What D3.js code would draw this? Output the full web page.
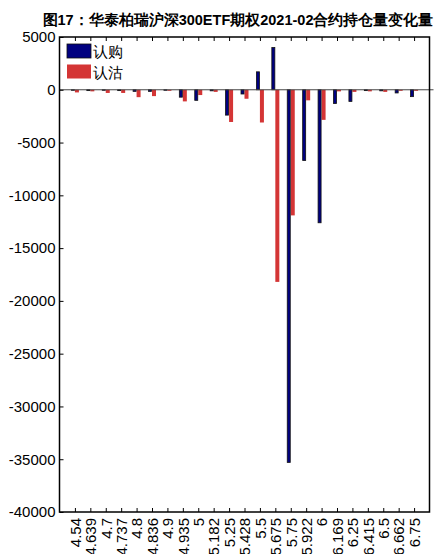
<!DOCTYPE html>
<html><head><meta charset="utf-8">
<script src="https://cdn.jsdelivr.net/npm/d3@7"></script>
<style>
body{margin:0;background:#fff;}
svg{display:block;}
text{font-family:"Liberation Sans",Arial,sans-serif;}
</style></head>
<body>
<svg id="c" width="444" height="554"></svg>
<script>
const categories = ["4.54","4.639","4.7","4.737","4.8","4.836","4.9","4.935","5","5.182","5.25","5.428","5.5","5.675","5.75","5.922","6","6.169","6.25","6.415","6.5","6.662","6.75"];
const callValues = [-50,-80,-50,-80,-150,-150,-50,-700,-1000,-100,-2400,-400,1700,4000,-35300,-6700,-12600,-1300,-1100,-80,-100,-300,-650];
const putValues = [-250,-150,-300,-300,-700,-600,-100,-1100,-500,-200,-3050,-850,-3100,-18200,-11900,-1000,-2850,-150,-200,-150,-200,-100,-100];
const yTicks = [5000,0,-5000,-10000,-15000,-20000,-25000,-30000,-35000,-40000];
const seriesNames = ["认购","认沽"];
const title = "图17：华泰柏瑞沪深300ETF期权2021-02合约持仓量变化量";

const svg = d3.select("#c");
const L = 59.5, R = 429.5, T = 37, B = 512;
const x = d3.scaleLinear().domain([0, categories.length + 1]).range([L, R]);
const y = d3.scaleLinear().domain([-40000, 5000]).range([B, T]);

svg.append("text").attr("x", 238).attr("y", 25).attr("text-anchor", "middle")
  .attr("font-size", 14.5).attr("font-weight", "bold")
  .attr("font-family", "'Noto Sans CJK SC','Liberation Sans',sans-serif")
  .text(title);

const bw = 4;
svg.append("g").selectAll("rect").data(putValues).join("rect")
  .attr("x", (d, i) => x(i + 1))
  .attr("width", bw)
  .attr("y", d => y(Math.max(0, d)))
  .attr("height", d => Math.abs(y(d) - y(0)))
  .attr("fill", "#d43535");
svg.append("g").selectAll("rect").data(callValues).join("rect")
  .attr("x", (d, i) => x(i + 1) - bw + 0.5)
  .attr("width", bw - 1)
  .attr("y", d => y(Math.max(0, d)))
  .attr("height", d => Math.abs(y(d) - y(0)))
  .attr("fill", "#000080").attr("stroke", "#111").attr("stroke-width", 0.8);

// zero line
svg.append("line").attr("x1", L).attr("x2", R + 4).attr("y1", y(0)).attr("y2", y(0))
  .attr("stroke", "#444").attr("stroke-width", 1);

// frame
svg.append("rect").attr("x", L).attr("y", T).attr("width", R - L).attr("height", B - T)
  .attr("fill", "none").attr("stroke", "#000").attr("stroke-width", 1.5);

// y axis
const ya = svg.append("g").attr("transform", `translate(${L},0)`)
  .call(d3.axisLeft(y).tickValues(yTicks).tickSize(-4).tickPadding(3).tickFormat(d => String(d)));
ya.select(".domain").remove();
ya.selectAll("text").attr("font-size", 15).attr("fill", "#000")
  .attr("font-family", "'Liberation Sans',Arial,sans-serif").attr("dx", -1);
ya.selectAll(".tick line").attr("stroke", "#000");

// x axis bottom
const xa = svg.append("g").attr("transform", `translate(0,${B})`)
  .call(d3.axisBottom(x).tickValues(d3.range(1, categories.length + 1)).tickSize(-4)
    .tickFormat((d) => categories[d - 1]));
xa.select(".domain").remove();
xa.selectAll(".tick line").attr("stroke", "#000");
xa.selectAll("text").attr("font-size", 15).attr("fill", "#000")
  .attr("font-family", "'Liberation Sans',Arial,sans-serif")
  .attr("transform", "rotate(-90)").attr("text-anchor", "end")
  .attr("x", -6).attr("y", 0).attr("dy", "0.35em");

// top ticks
const xt = svg.append("g").attr("transform", `translate(0,${T})`)
  .call(d3.axisTop(x).tickValues(d3.range(1, categories.length + 1)).tickSize(-4).tickFormat(""));
xt.select(".domain").remove();
xt.selectAll(".tick line").attr("stroke", "#000");

// legend
const colors = ["#000080", "#d43535"];
const lg = svg.append("g");
seriesNames.forEach((n, i) => {
  lg.append("rect").attr("x", 67).attr("y", 44 + i * 20.5).attr("width", 24).attr("height", 14)
    .attr("fill", colors[i]).attr("stroke", i === 0 ? "#111" : "none").attr("stroke-width", 0.8);
  lg.append("text").attr("x", 93).attr("y", 57 + i * 20.5).attr("font-size", 14.5)
    .attr("font-family", "'Noto Sans CJK SC',sans-serif").text(n);
});
</script>
</body></html>
